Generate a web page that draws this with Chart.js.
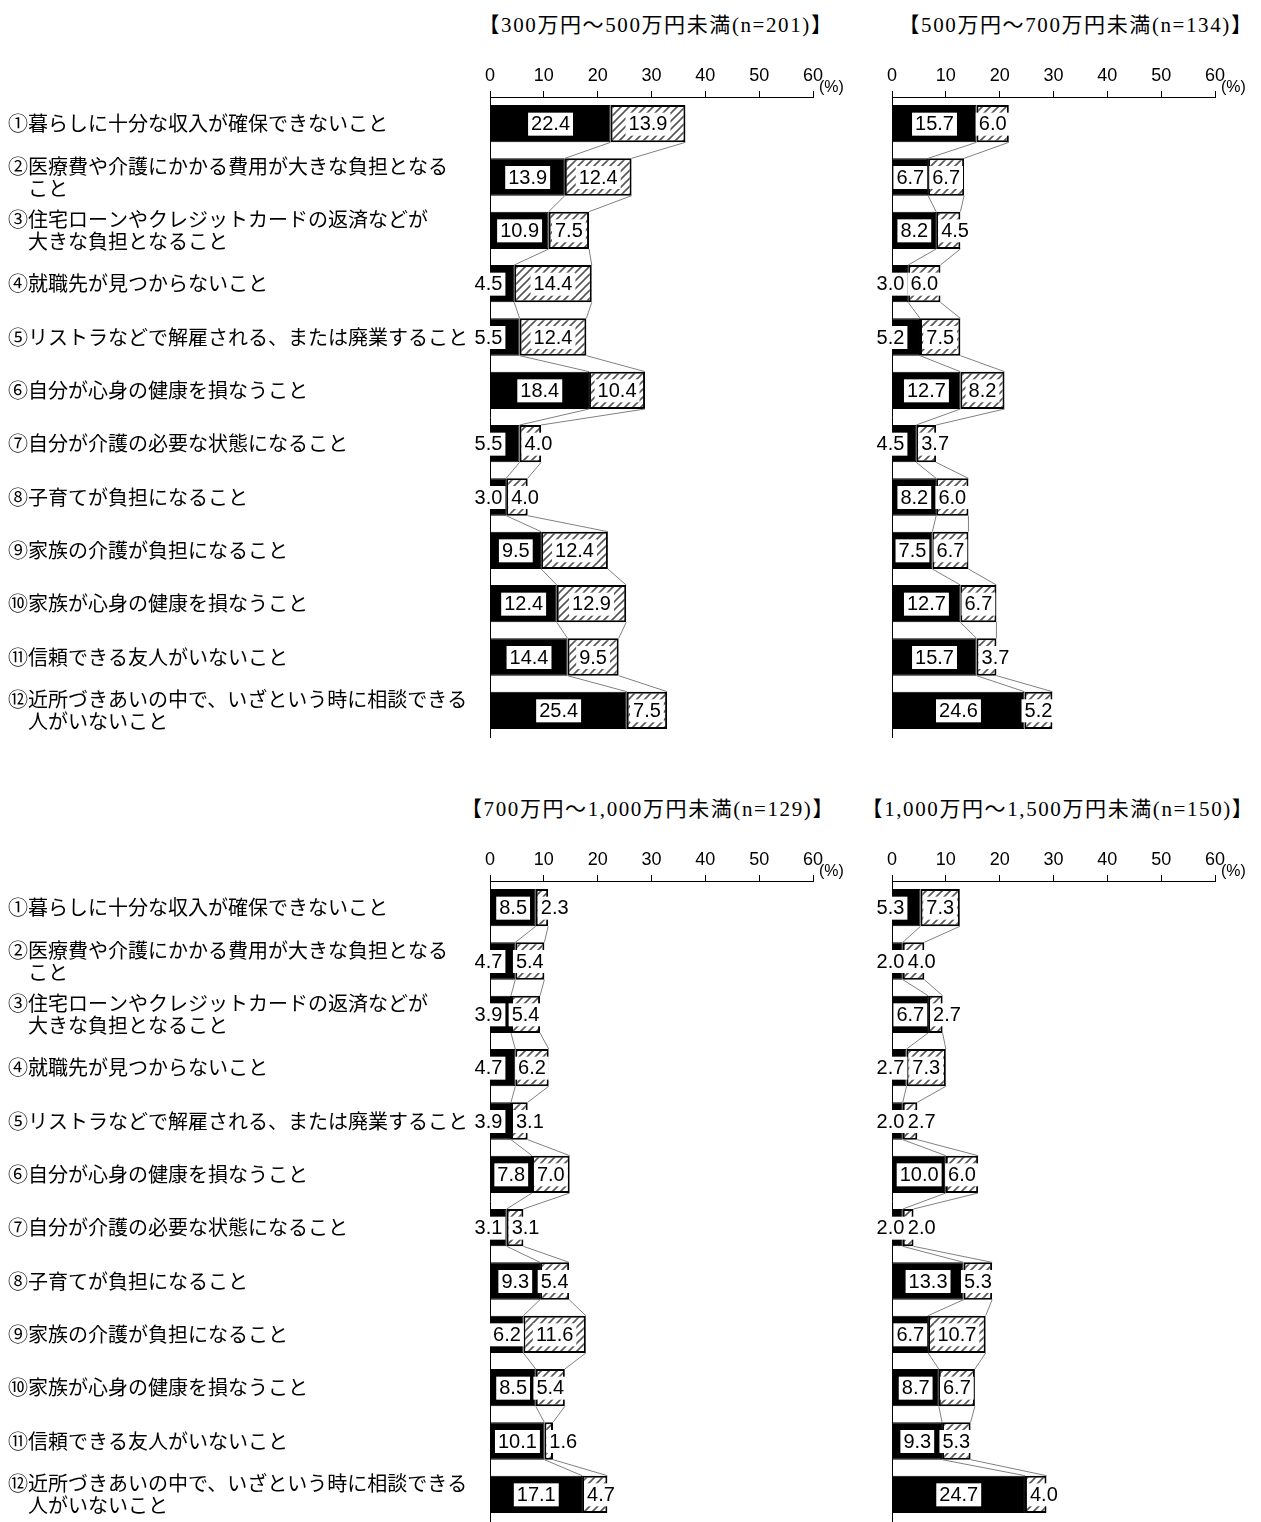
<!DOCTYPE html>
<html lang="ja">
<head>
<meta charset="utf-8">
<script src="https://cdn.jsdelivr.net/npm/chart.js@4.4.1/dist/chart.umd.min.js"></script>
<style>
  body { margin: 0; background: #fff; }
  #wrap { position: relative; width: 1261px; height: 1522px; }
  canvas { position: absolute; }
  .ttl { position: absolute; font-family: "Liberation Serif", "Noto Sans CJK JP"; font-size: 21px; letter-spacing: 1.6px; color: #000; white-space: nowrap; transform: translateX(-50%); }
</style>
</head>
<body>
<div id="wrap">
  <div class="ttl" id="t0" style="left:656px; top:8px"></div>
  <div class="ttl" id="t1" style="left:1076px; top:8px"></div>
  <div class="ttl" id="t2" style="left:648px; top:792px"></div>
  <div class="ttl" id="t3" style="left:1058px; top:792px"></div>
  <canvas id="c0" width="865" height="738" style="left:0; top:0"></canvas>
  <canvas id="c1" width="396" height="738" style="left:865px; top:0"></canvas>
  <canvas id="c2" width="865" height="738" style="left:0; top:784px"></canvas>
  <canvas id="c3" width="396" height="738" style="left:865px; top:784px"></canvas>
</div>
<script>
// categories (row labels)
const categories = [
  ['①暮らしに十分な収入が確保できないこと'],
  ['②医療費や介護にかかる費用が大きな負担となる', '　こと'],
  ['③住宅ローンやクレジットカードの返済などが', '　大きな負担となること'],
  ['④就職先が見つからないこと'],
  ['⑤リストラなどで解雇される、または廃業すること'],
  ['⑥自分が心身の健康を損なうこと'],
  ['⑦自分が介護の必要な状態になること'],
  ['⑧子育てが負担になること'],
  ['⑨家族の介護が負担になること'],
  ['⑩家族が心身の健康を損なうこと'],
  ['⑪信頼できる友人がいないこと'],
  ['⑫近所づきあいの中で、いざという時に相談できる', '　人がいないこと']
];

const panelTitles = [
  '【300万円～500万円未満(n=201)】',
  '【500万円～700万円未満(n=134)】',
  '【700万円～1,000万円未満(n=129)】',
  '【1,000万円～1,500万円未満(n=150)】'
];

const xTicks = [0, 10, 20, 30, 40, 50, 60];

// black segment / hatched segment per panel
const solid300 = [22.4, 13.9, 10.9, 4.5, 5.5, 18.4, 5.5, 3.0, 9.5, 12.4, 14.4, 25.4];
const hatch300 = [13.9, 12.4, 7.5, 14.4, 12.4, 10.4, 4.0, 4.0, 12.4, 12.9, 9.5, 7.5];

const solid500 = [15.7, 6.7, 8.2, 3.0, 5.2, 12.7, 4.5, 8.2, 7.5, 12.7, 15.7, 24.6];
const hatch500 = [6.0, 6.7, 4.5, 6.0, 7.5, 8.2, 3.7, 6.0, 6.7, 6.7, 3.7, 5.2];

const solid700 = [8.5, 4.7, 3.9, 4.7, 3.9, 7.8, 3.1, 9.3, 6.2, 8.5, 10.1, 17.1];
const hatch700 = [2.3, 5.4, 5.4, 6.2, 3.1, 7.0, 3.1, 5.4, 11.6, 5.4, 1.6, 4.7];

const solid1000 = [5.3, 2.0, 6.7, 2.7, 2.0, 10.0, 2.0, 13.3, 6.7, 8.7, 9.3, 24.7];
const hatch1000 = [7.3, 4.0, 2.7, 7.3, 2.7, 6.0, 2.0, 5.3, 10.7, 6.7, 5.3, 4.0];

const panels = [
  { id: 'c0', solid: solid300, hatch: hatch300, labels: true },
  { id: 'c1', solid: solid500, hatch: hatch500, labels: false },
  { id: 'c2', solid: solid700, hatch: hatch700, labels: true },
  { id: 'c3', solid: solid1000, hatch: hatch1000, labels: false }
];

panelTitles.forEach((t, i) => { document.getElementById('t' + i).textContent = t; });

// diagonal hatch
function makeHatch() {
  const c = document.createElement('canvas');
  c.width = 8; c.height = 8;
  const g = c.getContext('2d');
  g.fillStyle = '#fff';
  g.fillRect(0, 0, 8, 8);
  g.strokeStyle = '#555';
  g.lineWidth = 1.6;
  g.beginPath();
  g.moveTo(0, 8); g.lineTo(8, 0);
  g.moveTo(-2, 2); g.lineTo(2, -2);
  g.moveTo(6, 10); g.lineTo(10, 6);
  g.stroke();
  return g.createPattern(c, 'repeat');
}

// thin grey lines joining bar ends of neighbouring rows
const connectors = {
  id: 'connectors',
  afterDatasetsDraw(chart) {
    const ctx = chart.ctx;
    ctx.save();
    ctx.strokeStyle = '#808080';
    ctx.lineWidth = 1;
    chart.data.datasets.forEach((ds, d) => {
      const els = chart.getDatasetMeta(d).data;
      for (let i = 0; i < els.length - 1; i++) {
        const a = els[i], b = els[i + 1];
        ctx.beginPath();
        ctx.moveTo(a.x, a.y + a.height / 2);
        ctx.lineTo(b.x, b.y - b.height / 2);
        ctx.stroke();
      }
    });
    ctx.restore();
  }
};

// value labels in white boxes
const valueLabels = {
  id: 'valueLabels',
  afterDatasetsDraw(chart) {
    const ctx = chart.ctx;
    ctx.save();
    ctx.font = '20px "Liberation Sans", Arial, sans-serif';
    ctx.textAlign = 'center';
    ctx.textBaseline = 'middle';
    chart.data.datasets.forEach((ds, d) => {
      chart.getDatasetMeta(d).data.forEach((el, i) => {
        const txt = ds.data[i].toFixed(1);
        const w = ctx.measureText(txt).width;
        const seg = el.x - el.base;
        let cx;
        if (d === 0) cx = seg >= w + 2 ? (el.x + el.base) / 2 : el.base - 2;
        else cx = seg >= w ? (el.x + el.base) / 2 : el.base + 5 + w / 2;
        ctx.fillStyle = '#fff';
        ctx.fillRect(cx - w / 2 - 3, el.y - 11, w + 6, 23);
        ctx.fillStyle = '#000';
        ctx.fillText(txt, cx, el.y + 1);
      });
    });
    ctx.restore();
  }
};

// "(%)" next to the last tick
const percentUnit = {
  id: 'percentUnit',
  afterDraw(chart) {
    const ctx = chart.ctx;
    const xs = chart.scales.x;
    ctx.save();
    ctx.font = '16px "Liberation Sans", Arial, sans-serif';
    ctx.fillStyle = '#000';
    ctx.textAlign = 'left';
    ctx.textBaseline = 'middle';
    ctx.fillText('(%)', xs.right + 6, chart.chartArea.top - 9);
    ctx.restore();
  }
};

const hatch = makeHatch();

panels.forEach(p => {
  const ctx = document.getElementById(p.id).getContext('2d');
  new Chart(ctx, {
    type: 'bar',
    data: {
      labels: categories,
      datasets: [{
        data: p.solid,
        backgroundColor: '#000',
        borderColor: '#000',
        borderWidth: 1,
        barPercentage: 0.7,
        categoryPercentage: 1.0
      }, {
        data: p.hatch,
        backgroundColor: hatch,
        borderColor: '#000',
        borderWidth: 2,
        borderSkipped: false,
        barPercentage: 0.7,
        categoryPercentage: 1.0
      }]
    },
    options: {
      indexAxis: 'y',
      responsive: false,
      animation: false,
      layout: {
        padding: { left: p.labels ? 8 : 0, right: p.labels ? 52 : 46, top: 0, bottom: 1 }
      },
      plugins: {
        legend: { display: false },
        tooltip: { enabled: false }
      },
      scales: {
        x: {
          position: 'top',
          stacked: true,
          min: 0,
          max: 60,
          afterBuildTicks(s) { s.ticks = xTicks.map(v => ({ value: v })); },
          ticks: {
            color: '#000',
            padding: 4,
            font: { family: '"Liberation Sans", Arial, sans-serif', size: 18 }
          },
          grid: { drawOnChartArea: false, drawTicks: true, tickLength: 6, color: '#000' },
          border: { display: true, color: '#000', width: 1 },
          afterFit(s) { s.height = 97; s.paddingLeft = 0; s.paddingRight = 0; }
        },
        y: {
          stacked: true,
          grid: { display: false },
          border: { display: true, color: '#000', width: 1 },
          ticks: {
            display: p.labels,
            autoSkip: false,
            crossAlign: 'far',
            color: '#000',
            font: { family: '"Noto Sans CJK JP"', size: 20, lineHeight: 1.1 }
          },
          afterFit(s) {
            s.width = p.labels ? 482 : 27;
            s.paddingTop = 0;
            s.paddingBottom = 0;
          }
        }
      }
    },
    plugins: [connectors, valueLabels, percentUnit]
  });
});
</script>
</body>
</html>
